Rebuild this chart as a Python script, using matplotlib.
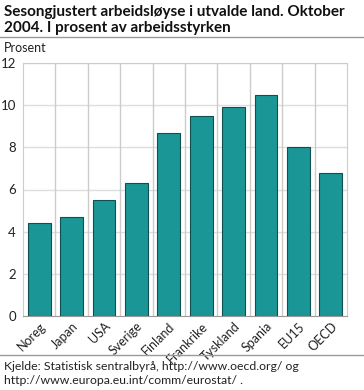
import matplotlib
matplotlib.use("Agg")
import matplotlib.pyplot as plt
import numpy as np

categories = ["Noreg", "Japan", "USA", "Sverige", "Finland", "Frankrike", "Tyskland", "Spania", "EU15", "OECD"]
values = [4.4, 4.7, 5.5, 6.3, 8.7, 9.5, 9.9, 10.5, 8.0, 6.8]
yticks = [0, 2, 4, 6, 8, 10, 12]

plt.rcParams['font.family'] = ['Lato', 'DejaVu Sans']
W, H = 364, 390
fig = plt.figure(figsize=(W/100, H/100), dpi=100)
ax = fig.add_axes([23/W, 1-316/H, (347-23)/W, (316-63)/H])

x = np.arange(len(categories))
ax.bar(x, values, width=0.7, color="#1a9696", edgecolor="#0f4f4f", linewidth=0.8, zorder=3)
ax.set_xlim(-0.5, len(categories)-0.5)
ax.set_ylim(0, 12)
ax.set_yticks(yticks)
ax.set_yticklabels([str(t) for t in yticks], fontsize=9.5, color="#222222")
ax.set_xticks(x)
ax.set_xticklabels(categories, rotation=45, ha="right", rotation_mode="anchor", fontsize=9, color="#222222")
ax.tick_params(axis="both", length=0, pad=3)
ax.tick_params(axis="y", pad=5)
for yv in yticks[1:]:
    ax.axhline(yv, color="#dddddd", linewidth=1, zorder=1)
for xv in np.arange(0.5, len(categories)-0.5, 1):
    ax.axvline(xv, color="#cccccc", linewidth=1, zorder=1)
for s in ["top", "left", "right"]:
    ax.spines[s].set_color("#cccccc")
ax.spines["bottom"].set_color("#999999")

fig.text(4/W, 1-12/H, "Sesongjustert arbeidsløyse i utvalde land. Oktober", fontsize=11, fontweight="bold", va="center", color="#111111")
fig.text(4/W, 1-28/H, "2004. I prosent av arbeidsstyrken", fontsize=11, fontweight="bold", va="center", color="#111111")
fig.add_artist(plt.Line2D([0, 1], [1-37/H, 1-37/H], color="#999999", linewidth=1))
fig.text(4/W, 1-48/H, "Prosent", fontsize=9, va="center", color="#222222")
fig.add_artist(plt.Line2D([0, 1], [1-355/H, 1-355/H], color="#999999", linewidth=1))
fig.text(4/W, 1-367/H, "Kjelde: Statistisk sentralbyrå, http://www.oecd.org/ og", fontsize=8.8, va="center", color="#222222")
fig.text(4/W, 1-381/H, "http://www.europa.eu.int/comm/eurostat/ .", fontsize=8.8, va="center", color="#222222")

fig.savefig("out.png", dpi=100)
